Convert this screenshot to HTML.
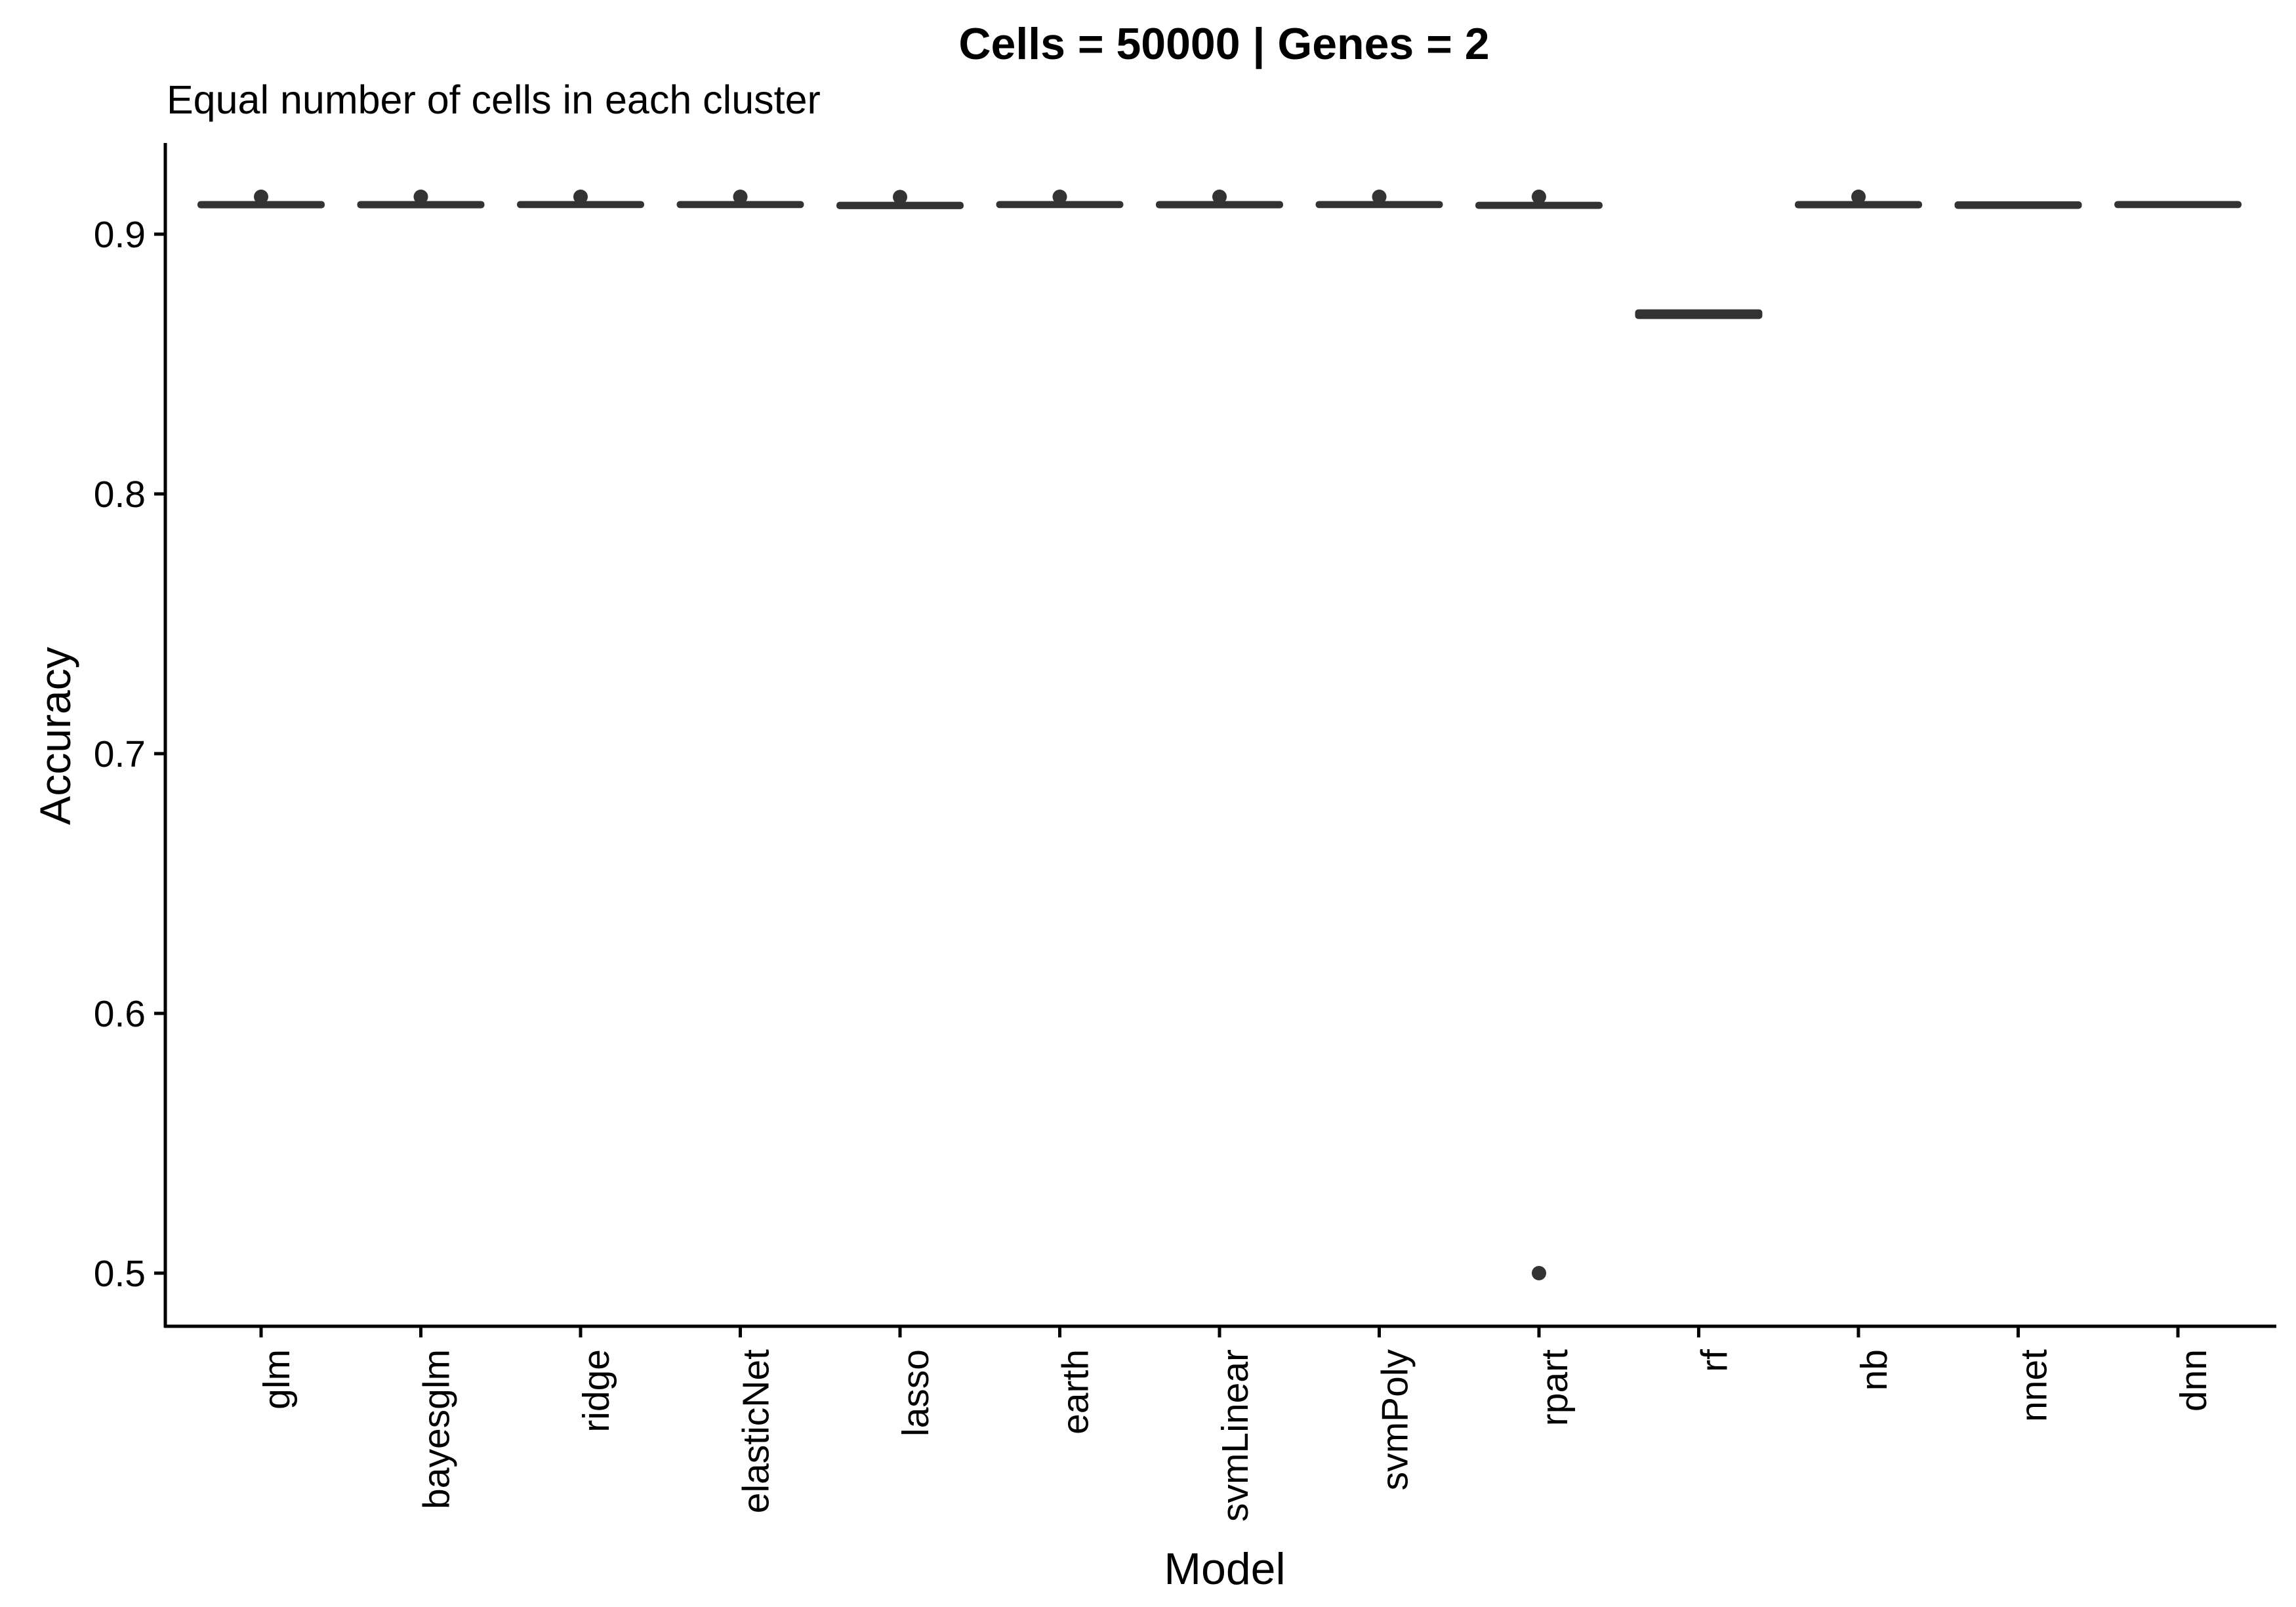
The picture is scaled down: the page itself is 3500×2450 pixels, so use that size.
<!DOCTYPE html>
<html><head><meta charset="utf-8"><style>
html,body{margin:0;padding:0;background:#fff}
svg{display:block;font-family:"Liberation Sans",Arial,sans-serif}
</style></head><body>
<svg id="chart" width="3500" height="2450" viewBox="0 0 3500 2450">
<text x="1866" y="90" font-size="68" font-weight="bold" text-anchor="middle">Cells = 50000 | Genes = 2</text>
<text x="254" y="173" font-size="61">Equal number of cells in each cluster</text>
<text transform="translate(107,1122) rotate(-90)" font-size="66" text-anchor="middle">Accuracy</text>
<text x="1867" y="2415" font-size="68" text-anchor="middle">Model</text>
<g id="plot"></g>
</svg>
<script>
const categories=["glm","bayesglm","ridge","elasticNet","lasso","earth","svmLinear","svmPoly","rpart","rf","nb","nnet","dnn"];
const q1Values=[0.9112,0.9112,0.9113,0.9113,0.9109,0.9113,0.9112,0.9113,0.9110,0.8686,0.9112,0.9110,0.9113];
const medianValues=[0.9114,0.9114,0.9114,0.9114,0.9110,0.9114,0.9114,0.9114,0.9111,0.8690,0.9114,0.9112,0.9114];
const q3Values=[0.9115,0.9115,0.9115,0.9115,0.9112,0.9115,0.9115,0.9115,0.9112,0.8698,0.9115,0.9114,0.9115];
const whiskerHigh=[0.9114,0.9114,0.9114,0.9114,0.9112,0.9114,0.9114,0.9114,0.9112,0.8698,0.9114,0.9120,0.9115];
const outliers=[[0.9144],[0.9144],[0.9144],[0.9144],[0.9143],[0.9144],[0.9144],[0.9144],[0.9144,0.5],[],[0.9144],[],[]];
const yTicks=[0.5,0.6,0.7,0.8,0.9];
const yTickLabels=["0.5","0.6","0.7","0.8","0.9"];

const NS="http://www.w3.org/2000/svg";
const g=document.getElementById('plot');
const axL=252, axB=2022, axR=3470, axT=218;
function yS(v){return 357+(0.9-v)*3960;}
function xS(i){return 398+i*243.5;}
function mk(t,a){const e=document.createElementNS(NS,t);for(const k in a)e.setAttribute(k,a[k]);g.appendChild(e);return e;}

categories.forEach((c,i)=>{
  const cx=xS(i), hw=92;
  const top=yS(q3Values[i]), bot=yS(q1Values[i]);
  const wh=mk('line',{x1:cx,x2:cx,y1:yS(whiskerHigh[i]),y2:top,stroke:'#333',"stroke-width":4});
  
  
  const r=mk('rect',{x:cx-hw,y:top,width:hw*2,height:Math.max(bot-top,0.5),fill:'#333',stroke:'#333',"stroke-width":10,"stroke-linejoin":'round'});
  
  
  const m=mk('line',{x1:cx-hw,x2:cx+hw,y1:yS(medianValues[i]),y2:yS(medianValues[i]),stroke:'#333',"stroke-width":4});
  
  
  outliers[i].forEach(v=>{
    const d=mk('circle',{cx:cx,cy:yS(v),r:11,fill:'#333'});
    
    
  });
  const t=mk('line',{x1:cx,x2:cx,y1:axB,y2:axB+17,stroke:'#000',"stroke-width":5});
  
  
  const tl=mk('text',{transform:`translate(${cx+43},${axB+35}) rotate(-90)`,"font-size":57,"text-anchor":'end'});
  tl.textContent=c;
  
  
});
yTicks.forEach((v,i)=>{
  const y=yS(v);
  const t=mk('line',{x1:axL-17,x2:axL,y1:y,y2:y,stroke:'#000',"stroke-width":5});
  
  
  const tl=mk('text',{x:222,y:y+20,"font-size":57,"text-anchor":'end'});
  tl.textContent=yTickLabels[i];
  
  
});
const ya=mk('line',{x1:axL,x2:axL,y1:axT,y2:axB+2,stroke:'#000',"stroke-width":5});


const xa=mk('line',{x1:axL-2,x2:axR,y1:axB,y2:axB,stroke:'#000',"stroke-width":5});


</script>
</body></html>
